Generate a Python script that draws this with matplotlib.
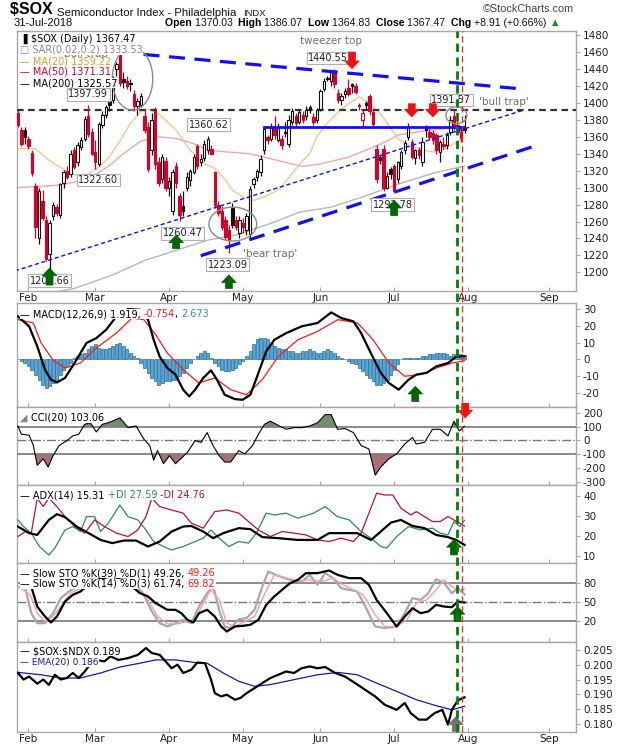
import numpy as np
import pandas as pd
import matplotlib
matplotlib.use('Agg')
import matplotlib.pyplot as plt
import matplotlib.transforms as mtrans
from matplotlib.patches import Ellipse
from matplotlib.lines import Line2D

plt.rcParams['font.family'] = ['DejaVu Sans']

# --- daily candles, 29-Jan-2018 .. 31-Jul-2018 ---
opens = [1388, 1368, 1368, 1357, 1341, 1302, 1240, 1284, 1262, 1222,
         1266, 1277, 1268, 1306, 1320, 1316, 1344, 1330, 1348, 1358,
         1384, 1366, 1342, 1328, 1374, 1386, 1402, 1404, 1440, 1458,
         1428, 1426, 1424, 1410, 1396, 1398, 1385, 1372, 1344, 1390,
         1330, 1310, 1332, 1300, 1272, 1325, 1290, 1278, 1300, 1309,
         1318, 1349, 1330, 1335, 1345, 1346, 1318, 1279, 1272, 1262,
         1250, 1276, 1262, 1246, 1258, 1250, 1245, 1304, 1312, 1318,
         1344, 1360, 1358, 1371, 1356, 1358, 1366, 1352, 1378, 1384,
         1378, 1386, 1385, 1395, 1383, 1380, 1393, 1416, 1430, 1426,
         1438, 1412, 1404, 1410, 1418, 1422, 1420, 1398, 1380, 1400,
         1408, 1389, 1346, 1336, 1346, 1300, 1322, 1326, 1310, 1326,
         1345, 1360, 1354, 1335, 1344, 1330, 1370, 1366, 1364, 1362,
         1342, 1352, 1350, 1366, 1384, 1374, 1366, 1370.03]
highs = [1392, 1371, 1372, 1361, 1344, 1306, 1299, 1297, 1266, 1262,
         1283, 1281, 1306, 1321, 1325, 1344, 1348, 1354, 1360, 1384,
         1397.99, 1370, 1356, 1378, 1390, 1398, 1405, 1432, 1448, 1462,
         1436, 1432, 1428, 1415, 1406, 1412, 1392, 1378, 1388, 1395,
         1336, 1340, 1336, 1312, 1322, 1330, 1294, 1296, 1318, 1322,
         1340, 1352, 1340, 1356, 1360.62, 1350, 1320, 1284, 1278, 1266,
         1256, 1282, 1266, 1266, 1264, 1270, 1302, 1312, 1322, 1338,
         1372, 1362, 1376, 1384, 1376, 1362, 1378, 1386, 1394, 1388,
         1392, 1390, 1396, 1398, 1388, 1394, 1416, 1430, 1432, 1438,
         1440.55, 1416, 1412, 1418, 1428, 1424, 1424, 1400, 1392, 1402,
         1410, 1392, 1350, 1338, 1350, 1318, 1324, 1328, 1332, 1344,
         1356, 1376, 1358, 1346, 1348, 1360, 1374, 1370, 1368, 1364,
         1356, 1360, 1366, 1384, 1391.57, 1380, 1370, 1386.07]
lows = [1371, 1349, 1352, 1346, 1314, 1240, 1234, 1262, 1214, 1200.66,
        1262, 1266, 1264, 1300, 1310, 1312, 1322, 1326, 1344, 1355,
        1360, 1338, 1322.6, 1325, 1370, 1382, 1390, 1400, 1432, 1420,
        1418, 1416, 1414, 1390, 1386, 1395, 1364, 1318, 1338, 1322,
        1302, 1306, 1296, 1290, 1268, 1300, 1260.47, 1266, 1296, 1302,
        1316, 1322, 1326, 1332, 1340, 1338, 1276, 1266, 1250, 1238,
        1223.09, 1252, 1250, 1240, 1246, 1244, 1240, 1300, 1308, 1314,
        1340, 1352, 1355, 1358, 1354, 1346, 1360, 1348, 1374, 1372,
        1375, 1376, 1380, 1388, 1374, 1376, 1390, 1414, 1426, 1420,
        1418, 1400, 1398, 1406, 1408, 1412, 1410, 1392, 1372, 1392,
        1386, 1370, 1305, 1328, 1296, 1298, 1310, 1293.78, 1306, 1322,
        1340, 1356, 1334, 1328, 1334, 1326, 1360, 1356, 1352, 1340,
        1330, 1346, 1346, 1362, 1368, 1362, 1354, 1364.83]
closes = [1374, 1352, 1360, 1349, 1317, 1254, 1296, 1264, 1216, 1258,
          1279, 1270, 1304, 1318, 1313, 1340, 1324, 1350, 1356, 1381,
          1363, 1340, 1330, 1375, 1386, 1395, 1398, 1429, 1446, 1424,
          1425, 1420, 1422, 1396, 1402, 1408, 1368, 1322, 1380, 1328,
          1306, 1336, 1300, 1308, 1318, 1305, 1268, 1272, 1313, 1320,
          1336, 1326, 1334, 1352, 1358, 1340, 1279, 1270, 1254, 1242,
          1238, 1256, 1253, 1262, 1254, 1266, 1298, 1310, 1320, 1334,
          1369, 1356, 1372, 1362, 1370, 1350, 1364, 1380, 1391, 1376,
          1389, 1380, 1392, 1393, 1378, 1392, 1414, 1426, 1428, 1436,
          1422, 1404, 1408, 1414, 1411, 1420, 1413, 1396, 1388, 1398,
          1390, 1375, 1310, 1333, 1299, 1314, 1316, 1296, 1330, 1342,
          1353, 1372, 1336, 1344, 1338, 1354, 1368, 1360, 1356, 1344,
          1354, 1349, 1362, 1380, 1372, 1366, 1358.56, 1367.47]

# moving averages (trading-day index, value)
ma20_x = [0, 5, 9, 14, 17, 20, 23, 26, 29, 32, 35, 37, 40, 45, 49, 53, 56, 59, 61,
          64, 67, 70, 73, 75, 78, 81, 83, 85, 88, 91, 94, 97, 100, 103, 106, 108,
          111, 114, 118, 121, 124, 127]
ma20_y = [1346, 1346, 1332, 1319, 1314, 1316, 1324, 1336, 1355, 1376, 1390, 1393,
          1387, 1368, 1344, 1328, 1323, 1309, 1297, 1289, 1285, 1289, 1295, 1301,
          1317, 1332, 1340, 1360, 1376, 1389, 1399, 1407, 1399, 1388, 1370, 1358,
          1350, 1346, 1342, 1345, 1352, 1359.22]
ma50_x = [0, 12, 20, 26, 30, 35, 40, 45, 50, 54, 60, 66, 72, 78, 81, 86, 94, 100,
          105, 108, 114, 120, 127]
ma50_y = [1300, 1303, 1310, 1326, 1340, 1355, 1360, 1358, 1352, 1344, 1342, 1340,
          1334, 1328, 1325, 1328, 1336, 1346, 1355, 1362, 1366, 1369, 1371.31]
ma200_x = [0, 10, 16, 27, 36, 45, 54, 62, 72, 80, 89, 98, 108, 118, 127]
ma200_y = [1168, 1176, 1181, 1197, 1214, 1226, 1238, 1244, 1258, 1271, 1277, 1289,
           1304, 1317, 1325.57]

# MACD(12,26,9)
macd_x = [0, 3.2, 5.5, 7.7, 9.4, 11.1, 13.4, 16.1, 19.5, 22.3, 25.1, 28, 31.3, 34.7,
          37, 38.6, 40.3, 42.5, 44.8, 47, 48.7, 50.4, 52.7, 54.9, 56.6, 58.8, 61.7,
          63.9, 66.1, 68.4, 70.6, 72.9, 76.3, 80.7, 85.2, 89.1, 92, 95.4, 97.6, 100.4,
          103.2, 105.5, 108.3, 111.1, 113.3, 116.2, 119, 122.3, 124.6, 127]
macd_y = [25.6, 19.7, 7.8, -6.1, -12, -13.7, -11, -2.1, 9.8, 12.7, 17.7, 25.6, 30,
          29.6, 23.7, 11.7, 1.8, -5.1, -9, -18, -22, -18, -11, -6.5, -12, -21, -23.6,
          -24, -21, -8, 4.8, 11.7, 15.7, 19.7, 21.7, 28, 24.6, 22.7, 15.7, 3.6, -8,
          -14, -18, -12, -9, -8, -4.1, -2.1, 1.6, 1.919]
signal_x = [0, 4.4, 6.6, 10, 13.4, 17.8, 22.3, 28, 32.4, 35.8, 39.2, 42.5, 47, 51.5,
            56, 60.5, 65, 69.5, 74, 79.6, 85.2, 91, 96.6, 101, 105.5, 110, 114.5, 119,
            123.4, 127]
signal_y = [23.7, 21.7, 9.8, -0.4, -5.1, -2.1, 6.8, 15.7, 24.6, 23.7, 14.7, 3.8, -6.1,
            -14, -11, -18, -21, -12, 1.6, 11.7, 16.7, 23.7, 21.7, 11.7, -2.1, -10, -9,
            -5.1, -2.1, -0.754]
macd_hist = [0.5, -1, -2, -4, -6, -9, -12, -15, -17, -16, -14, -12, -9, -6, -4, -2,
             1, 2, 3, 4, 6, 8, 9, 7, 6, 6, 7, 8, 9, 10, 8, 6, 4, 2, 1, -2, -5, -8,
             -11, -13, -15, -14, -13, -13, -12, -12, -10, -8, -5, -2, 0, 2, 4, 5, 4,
             1, -2, -4, -6, -7, -7, -6, -5, -3, -1, 2, 5, 9, 12, 13, 13, 12, 10, 8,
             7, 6, 6, 5, 5, 4, 4, 5, 5, 6, 5, 4, 4, 5, 6, 5, 4, 2, 1, 0, -1, -2, -3,
             -5, -7, -9, -11, -13, -15, -15, -14, -12, -9, -6, -3, 0, 1, 1, 1, 1, 1,
             2, 2, 3, 3, 4, 4, 4, 3, 2, 3, 3, 3, 2.673]

# CCI(20)
cci_x = [0, 1, 3.2, 4.4, 5.5, 7.2, 8.6, 10, 11.7, 13.9, 15.6, 17.3, 19, 20.6, 22.3,
         24, 25.7, 28, 29, 31.3, 33.6, 35.8, 37.5, 38.6, 39.7, 41.4, 43.1, 44.8,
         46.5, 48.2, 50.4, 52.1, 53.8, 55.5, 57.2, 58.8, 60.5, 62.8, 64.5, 66.7,
         68.4, 70.1, 71.8, 74, 76.3, 78.5, 80.7, 83, 85.2, 87.4, 89.1, 90.9, 93.1,
         95.4, 97.6, 99.8, 101.6, 103.2, 105.5, 107.7, 110, 112.2, 113.3, 115.6,
         117.9, 120.1, 122.3, 124, 125.5, 127]
cci_y = [105, 45, 38, -38, -181, -133, -193, -110, -38, -2, 33, 45, 117, 129, 62,
         117, 129, 152, 164, 93, 105, 10, -38, -145, -74, -169, -110, -169, -129,
         -86, -2, -14, 57, -38, -110, -157, -157, -74, -98, -38, 45, 117, 140, 110,
         81, 93, 93, 105, 129, 188, 188, 81, 86, 57, -38, -62, -252, -193, -133,
         -98, -26, 21, -26, -14, 81, 81, 33, 140, 69, 103.06]

# ADX(14), +DI, -DI
adx_x = [0, 3.2, 5.5, 8.8, 11.1, 13.4, 16.7, 20.1, 23.5, 26.8, 30.2, 33.6, 37, 40.3,
         43.7, 47, 49.3, 52.7, 55.5, 58.4, 62.8, 66.1, 69.5, 74, 79.6, 85.2, 88.5,
         93, 96.5, 100.4, 103.2, 106.1, 108.9, 112.2, 115.6, 118.9, 122.3, 124.6, 127]
adx_y = [24.5, 21.2, 20.3, 27.8, 30.7, 29.2, 24.5, 21.2, 17.8, 16.2, 17.5, 17.5,
         14.5, 17, 22, 24.5, 24.8, 22, 18.7, 21.2, 23.7, 23.2, 19.2, 18.7, 17.8,
         17.8, 21.2, 21.2, 21.2, 17.8, 22, 26.5, 27.8, 24.8, 23.7, 20.3, 19.2, 17.8,
         15.31]
pdi_x = [0, 1.6, 3.8, 6.1, 8.8, 10.5, 13.4, 15.6, 17.8, 19.5, 21.8, 23.5, 25.7, 29,
         31.3, 34.1, 36.4, 38.6, 41.4, 43.7, 47, 50.4, 52.7, 54.9, 57.2, 60, 62.8,
         65.6, 67.8, 70.6, 72.9, 76.3, 79.6, 84.1, 87.4, 90.8, 94.2, 97.6, 100.4,
         103.2, 104.9, 107.7, 111.1, 114.5, 117.9, 120.1, 122.3, 124, 125.7, 127]
pdi_y = [27.8, 24.5, 21.2, 14.5, 10.3, 13.7, 22.8, 24.5, 22, 29.5, 29.5, 22, 26.2,
         35.3, 29.5, 27.8, 22.8, 17, 14.5, 12.8, 14.5, 17, 18.7, 22.8, 18.7, 14.5,
         17, 16.2, 21.2, 31.2, 30.3, 31.2, 28.7, 31.2, 34.5, 29.5, 27.8, 22, 18.7,
         14.5, 13.7, 19.5, 24.5, 22.8, 23.7, 21.2, 20.3, 27, 24.5, 27.59]
mdi_x = [0, 2.1, 3.8, 5.5, 7.2, 8.8, 11.1, 13.4, 16.2, 19, 21.8, 24.6, 28, 31.3,
         34.1, 36.4, 38.1, 40.3, 43.7, 47, 49.3, 52.7, 56, 59.4, 62.8, 65.6, 68.4,
         71.8, 75.1, 78.5, 81.9, 85.2, 88.5, 91.9, 95.4, 97.6, 99.8, 102, 104.3,
         106.6, 108.9, 111.7, 113.3, 115.6, 117.9, 120.1, 122.3, 124, 127]
mdi_y = [19.5, 22, 21.2, 38.7, 34.5, 38.7, 34.5, 29.5, 24.5, 21.2, 27.8, 24.5, 21.2,
         19.5, 22.8, 29.5, 38.7, 34.5, 32.8, 31.2, 26.2, 23.7, 32, 32.8, 31.2, 27,
         22.8, 19.5, 22, 21.2, 20.3, 17.8, 17, 18.7, 17, 21.2, 31.2, 41.2, 40.3,
         40.3, 33.7, 30.3, 32, 29.5, 27, 27, 29.5, 27.8, 24.76]

# Slow stochastics
sto39_x = [3.8, 5.5, 7.7, 9.4, 11.1, 13.4, 15.6, 17.8, 19.5, 23, 27, 31, 34.7, 37,
           39.2, 42.5, 44.8, 46.5, 48.2, 49.9, 51.5, 53.8, 56, 57.8, 59.4, 61.7,
           63.9, 66.1, 68.4, 70.6, 72.9, 75.1, 77.4, 79.6, 81.9, 85.2, 88.5, 90.9,
           94.2, 97.6, 99.8, 102, 104.9, 107.7, 110, 112.2, 114.5, 116.7, 118.9,
           121.2, 123.4, 125.1, 127]
sto39_y = [73.8, 43, 27.7, 18.5, 27.7, 50.8, 61, 66.2, 73.8, 85, 90, 80, 63.6, 58.5,
           48.2, 38, 38, 32.8, 22.6, 18.5, 32.8, 38, 27.7, 12.3, 4.6, 12.3, 13.3,
           14.9, 22.6, 45.6, 58.5, 68.7, 79, 84.1, 94.4, 94.4, 98.5, 91.8, 86.7,
           86.7, 76.4, 53.3, 32.8, 12.3, 27.7, 40.5, 32.8, 35.4, 45.6, 43, 42,
           50.8, 49.26]
sto14k_x = [0, 2.1, 3.8, 5.5, 7.7, 10, 12.2, 14.5, 16.7, 22, 26, 30, 33.6, 35.8,
            38.1, 40.3, 42.5, 44.8, 47, 49.3, 51.5, 53.8, 55.5, 57.2, 58.8, 60.5,
            62.8, 65, 67.3, 69.5, 71.2, 74, 77.4, 80.7, 83, 85.2, 87.4, 89.6, 91.9,
            94.2, 96.5, 98.8, 101.6, 104.3, 107.7, 110, 112.2, 114.5, 116.7, 118.9,
            121.2, 123.4, 125.1, 127]
sto14k_y = [73.8, 71.3, 32.8, 17.4, 17.4, 32.8, 55.9, 66.2, 72.8, 90, 95, 88, 73.8,
            61, 35.4, 17.4, 12.3, 17.4, 22.6, 17.4, 43, 63.6, 74.9, 38, 12.3, 9.7,
            23.6, 25.1, 38, 73.8, 96.9, 90.3, 84.1, 81.5, 91.8, 76.4, 94.4, 86.7,
            71.3, 68.7, 66.2, 43, 12.3, 9.7, 12.3, 32.8, 55.9, 53.3, 63.6, 85.1, 79,
            63.6, 71.3, 61.74]
sto14d_x = [0, 3.5, 5.5, 7.7, 10, 12.2, 15, 17.8, 22, 26, 30, 34.7, 37, 39.7, 42.5,
            45.4, 48.2, 50.4, 52.7, 54.9, 57.2, 59.4, 61.7, 64.5, 67.3, 69.8, 72.9,
            76.3, 79.6, 83, 86.3, 89.6, 92.5, 95.4, 98.2, 101.6, 104.3, 107.7, 110.6,
            113.3, 116.2, 118.9, 121.2, 123.4, 125.1, 127]
sto14d_y = [73.8, 61, 32.8, 20, 27.7, 43, 63.6, 71.3, 88, 92, 86, 71.3, 53.3, 27.7,
            16.4, 16.4, 20, 22.6, 48.2, 68.7, 53.3, 17.4, 12.3, 20, 27.7, 58.5, 91.8,
            86.7, 82.6, 84.1, 81.5, 86.7, 76.4, 68.7, 61, 30.3, 12.3, 12.3, 22.6,
            48.2, 53.3, 68.7, 84.1, 73.8, 68.7, 69.82]

# $SOX:$NDX ratio and its EMA(20)
ratio_x = [0, 1.6, 3.2, 5.5, 7.2, 8.8, 10.5, 12.2, 13.9, 15.6, 17.3, 19, 20.1, 22.3,
           24.6, 26.3, 28.6, 31.3, 34.1, 36.4, 38.1, 40.3, 42, 43.7, 45.4, 47, 49.3,
           51, 53.2, 54.9, 56, 57.8, 59.4, 61.7, 63.3, 65, 67.3, 69.5, 71.8, 74,
           76.3, 78.5, 80.7, 83, 85.2, 87.4, 90.2, 93, 95.9, 98.8, 101.6, 104.3,
           107.7, 110, 111.7, 114, 116.2, 118.5, 120.7, 122.3, 123.4, 125.1, 127]
ratio_y = [0.1972, 0.1950, 0.1960, 0.1936, 0.1950, 0.1932, 0.1966, 0.1950, 0.1955,
           0.1972, 0.1955, 0.1977, 0.1994, 0.2016, 0.2011, 0.2028, 0.2016, 0.2022,
           0.2033, 0.2056, 0.2039, 0.2033, 0.2011, 0.1988, 0.2000, 0.1972, 0.1983,
           0.2007, 0.2005, 0.1950, 0.1904, 0.1893, 0.1899, 0.1882, 0.1888, 0.1904,
           0.1921, 0.1938, 0.1955, 0.1966, 0.1977, 0.1972, 0.1988, 0.1994, 0.1988,
           0.1992, 0.1972, 0.1960, 0.1938, 0.1915, 0.1893, 0.1865, 0.1848, 0.1871,
           0.1837, 0.1815, 0.1815, 0.1837, 0.1848, 0.1798, 0.1848, 0.1880, 0.189]
ema_x = [0, 6.6, 12.2, 17.8, 23.5, 29, 34.7, 39.2, 44.8, 50.4, 53.8, 58.4, 62.8,
         67.3, 71.8, 76.3, 80.7, 85.2, 90.9, 96.5, 102, 107.7, 113.3, 118.9, 123.4,
         127]
ema_y = [0.1974, 0.1966, 0.1955, 0.1955, 0.1972, 0.1992, 0.2005, 0.2016, 0.2016,
         0.2007, 0.2005, 0.1972, 0.1944, 0.1927, 0.1933, 0.1944, 0.1955, 0.1966,
         0.1974, 0.1966, 0.1938, 0.1910, 0.1882, 0.1862, 0.1848, 0.186]

# annotations on the price panel
price_tags = [(20, 1410, '1397.99'), (22.8, 1309, '1322.60'), (54.3, 1374, '1360.62'),
              (46.8, 1246, '1260.47'), (59.7, 1209, '1223.09'), (9, 1190, '1200.66'),
              (106.6, 1280, '1293.78'), (88.3, 1453, '1440.55'), (123.2, 1403.5, '1391.57')]
up_arrows = [(9, 1185, 1205), (45, 1228, 1244), (60, 1181, 1197), (107, 1267, 1285)]
down_arrows = [(95, 1460, 1440.5), (112, 1399, 1383.5), (118, 1399, 1383.5)]

# --- layout ---
W, H = 620, 750
fig = plt.figure(figsize=(W / 100, H / 100), dpi=100)
LEFT, RIGHT = 16.5, 576


def rect(top, bot):
    return [LEFT / W, 1 - bot / H, (RIGHT - LEFT) / W, (bot - top) / H]


ax_p = fig.add_axes(rect(30.5, 291))
ax_m = fig.add_axes(rect(303, 407))
ax_c = fig.add_axes(rect(407, 485))
ax_a = fig.add_axes(rect(485, 562.5))
ax_s = fig.add_axes(rect(562.5, 641.5))
ax_r = fig.add_axes(rect(641.5, 731.5))

holidays = pd.to_datetime(['2018-02-19', '2018-03-30', '2018-05-28', '2018-07-04', '2018-09-03'])
days = pd.bdate_range('2018-01-29', '2018-09-28')
days = days[~days.isin(holidays)]
month_pos, month_lab = [], []
for k in range(1, len(days)):
    if days[k].month != days[k - 1].month:
        month_pos.append(k)
        month_lab.append(days[k].strftime('%b'))

edge = '#a8a8a8'
txt = '#222222'


def style(ax, ylim, yticks, ylabels, xlabels=False):
    ax.set_xlim(-0.4, 158.7)
    ax.set_ylim(*ylim)
    ax.yaxis.tick_right()
    ax.set_yticks(yticks)
    ax.set_yticklabels(ylabels)
    ax.set_xticks(month_pos)
    ax.set_xticklabels(month_lab if xlabels else [])
    ax.tick_params(axis='y', length=3, pad=2, labelsize=7.5, colors=edge, labelcolor=txt)
    ax.tick_params(axis='x', length=3, pad=1.5, labelsize=7.5, colors=edge, labelcolor=txt,
                   direction='in')
    for s in ax.spines.values():
        s.set_color(edge)
        s.set_linewidth(1)


# --- price panel ---
x = np.arange(len(closes))
o, h, l, c = map(np.asarray, (opens, highs, lows, closes))
prev = np.r_[o[0], c[:-1]]
red, blk = '#d6002a', '#111111'
col = np.where(c < prev, red, blk)
face = np.where(c > o, 'white', col)
ax_p.vlines(x, l, h, colors=col, lw=0.9, zorder=4)
ax_p.bar(x, np.maximum(np.abs(c - o), 0.8), bottom=np.minimum(o, c), width=0.68,
         color=face, edgecolor=col, linewidth=0.8, zorder=5)

ax_p.plot(ma20_x, ma20_y, color='#f0c890', lw=1.0, zorder=2)
ax_p.plot(ma50_x, ma50_y, color='#f2a8a8', lw=1.0, zorder=2)
ax_p.plot(ma200_x, ma200_y, color='#b8b8b8', lw=1.0, zorder=2)

blue = '#1010f0'
ax_p.plot([28.5, 142], [1460, 1417], color=blue, lw=2.3, dashes=(5, 3), zorder=6)
ax_p.plot([52, 147.6], [1219.6, 1350], color=blue, lw=2.3, dashes=(5, 3), zorder=6)
ax_p.plot([-4.6, 143.7], [1196.8, 1391.4], color=blue, lw=1.0, dashes=(3, 2), zorder=6)
ax_p.plot([70, 126.8], [1372, 1372], color=blue, lw=2.0, zorder=6)
ax_p.axhline(1391.57, color='#333333', lw=1.6, dashes=(3, 2), zorder=3)

for cx, cy, w, hh in [(32.6, 1428.5, 11.5, 74), (61.1, 1257, 13.6, 40), (124.7, 1385.5, 6, 20)]:
    ax_p.add_patch(Ellipse((cx, cy), w, hh, fill=False, ec='#8a8a8a', lw=1.0, zorder=7))

for px, py, s in price_tags:
    ax_p.text(px, py, s, ha='center', va='center', fontsize=7, color=txt, zorder=8,
              bbox=dict(boxstyle='square,pad=0.15', fc='white', ec='#b0b0b0', lw=0.8))


def block_arrow(ax, xi, tail, tip, color):
    ax.annotate('', xy=(xi, tip), xytext=(xi, tail), annotation_clip=False, zorder=9,
                arrowprops=dict(arrowstyle='simple,head_length=0.55,head_width=1.05,tail_width=0.5',
                                fc=color, ec=color, lw=0.5, shrinkA=0, shrinkB=0,
                                mutation_scale=10, clip_on=False))


for xi, t0, t1 in up_arrows:
    block_arrow(ax_p, xi, t0, t1, '#006400')
for xi, t0, t1 in down_arrows:
    block_arrow(ax_p, xi, t0, t1, '#ee1111')

gray_txt = '#707070'
ax_p.text(89, 1473, 'tweezer top', ha='center', va='center', fontsize=7.5, color=gray_txt)
ax_p.text(131, 1401, "'bull trap'", ha='left', va='center', fontsize=7.5, color=gray_txt)
ax_p.text(64, 1221.6, "'bear trap'", ha='left', va='center', fontsize=7.5, color=gray_txt)
ax_p.text(12.2, 1457.4, "'bull trap'", ha='left', va='center', fontsize=7.5, color=gray_txt)

style(ax_p, (1178, 1485.5), range(1200, 1481, 20), [str(v) for v in range(1200, 1481, 20)], True)

# --- MACD ---
hc = np.asarray(macd_hist)
ax_m.bar(np.arange(len(hc)), hc, width=0.85, color='#55a5d5', edgecolor='#2f6f99', lw=0.5, zorder=2)
ax_m.plot(macd_x, macd_y, color='black', lw=1.6, zorder=4)
ax_m.plot(signal_x, signal_y, color='#ff1a1a', lw=0.9, zorder=3)
style(ax_m, (-28.3, 33.6), range(-20, 31, 10), [str(v) for v in range(-20, 31, 10)])
block_arrow(ax_m, 113, -25, -16, '#006400')

# --- CCI ---
cx_, cy_ = np.asarray(cci_x), np.asarray(cci_y)
ax_c.fill_between(cx_, cy_, 100, where=cy_ > 100, interpolate=True, color='#6f8f6f', lw=0, zorder=2)
ax_c.fill_between(cx_, cy_, -100, where=cy_ < -100, interpolate=True, color='#a87272', lw=0, zorder=2)
ax_c.plot(cx_, cy_, color='black', lw=0.8, zorder=4)
ax_c.axhline(100, color='#777777', lw=1.2, zorder=3)
ax_c.axhline(-100, color='#777777', lw=1.2, zorder=3)
ax_c.axhline(0, color='#777777', lw=1.0, ls='-.', zorder=3)
style(ax_c, (-324, 243), range(-300, 201, 100), [str(v) for v in range(-300, 201, 100)])
block_arrow(ax_c, 127.2, 270, 164, '#ee1111')

# --- ADX ---
ax_a.plot(pdi_x, pdi_y, color='#2e8b57', lw=0.9, zorder=3)
ax_a.plot(mdi_x, mdi_y, color='#b5123e', lw=0.9, zorder=3)
ax_a.plot(adx_x, adx_y, color='black', lw=1.6, zorder=4)
style(ax_a, (6.5, 45.3), [10, 20, 30, 40], ['10', '20', '30', '40'])
block_arrow(ax_a, 124, 10.3, 18, '#006400')

# --- Slow stochastics ---
ax_s.axhline(80, color='#777777', lw=1.2, zorder=1)
ax_s.axhline(20, color='#777777', lw=1.2, zorder=1)
ax_s.axhline(50, color='#777777', lw=1.0, ls='-.', zorder=1)
ax_s.plot(sto14k_x, sto14k_y, color='#a8a8a8', lw=1.6, zorder=2)
ax_s.plot(sto14d_x, sto14d_y, color='#f4a0a0', lw=1.0, zorder=3)
ax_s.plot(sto39_x, sto39_y, color='black', lw=1.6, zorder=4)
style(ax_s, (-10.8, 110.8), [20, 50, 80], ['20', '50', '80'])
block_arrow(ax_s, 125, 20, 43, '#006400')

# --- ratio ---
ax_r.plot(ema_x, ema_y, color='#1a1aa0', lw=0.9, zorder=3)
ax_r.plot(ratio_x, ratio_y, color='black', lw=1.6, zorder=4)
rt = [0.180, 0.185, 0.190, 0.195, 0.200, 0.205]
style(ax_r, (0.1775, 0.2078), rt, ['%.3f' % v for v in rt], True)
block_arrow(ax_r, 124.5, 0.1775, 0.1824, '#707070')

# vertical event lines through every panel
blend = mtrans.blended_transform_factory(ax_p.transData, fig.transFigure)
fig.add_artist(Line2D([125, 125], [1 - 731.5 / H, 1 - 30.5 / H], transform=blend,
                      color='#008000', lw=2.0, dashes=(3, 2), zorder=10))
fig.add_artist(Line2D([126.3, 126.3], [1 - 731.5 / H, 1 - 30.5 / H], transform=blend,
                      color='#ff2020', lw=0.9, dashes=(5, 3), zorder=10))


# --- legend / header texts ---
def chain(ax, xp, yp, parts, size, family=None, bg=True):
    fam = family or ['DejaVu Sans']
    bb = dict(boxstyle='square,pad=0.05', fc='white', ec='none') if bg else None
    first = parts[0]
    t = ax.text(xp / W, 1 - yp / H, first[0], transform=fig.transFigure, color=first[1],
                fontsize=first[3] if len(first) > 3 else size, fontweight=first[2],
                family=fam, ha='left', va='baseline', zorder=20, bbox=bb)
    for part in parts[1:]:
        s, cl, wt = part[:3]
        t = ax.annotate(s, xy=(1, 0), xycoords=t, ha='left', va='bottom', color=cl,
                        fontsize=part[3] if len(part) > 3 else size, fontweight=wt,
                        family=fam, zorder=20, annotation_clip=False, bbox=bb)
    return t


hdr = ['Liberation Sans', 'DejaVu Sans']
chain(ax_p, 10, 14.5, [(r'\$SOX ', 'black', 'bold', 11.5),
                       ('Semiconductor Index - Philadelphia  ', '#111111', 'normal', 8.2),
                       ('INDX', '#111111', 'normal', 6.8)], 8, hdr, False)
fig.text(574 / W, 1 - 12.5 / H, '\u00a9StockCharts.com', ha='right', va='baseline',
         fontsize=7.8, color='#444444', family=hdr)
chain(ax_p, 14, 25.5, [('31-Jul-2018', '#111111', 'normal')], 8, hdr, False)
chain(ax_p, 165, 25.5, [('Open ', 'black', 'bold'), ('1370.03  ', '#111111', 'normal'),
                        ('High ', 'black', 'bold'), ('1386.07  ', '#111111', 'normal'),
                        ('Low ', 'black', 'bold'), ('1364.83  ', '#111111', 'normal'),
                        ('Close ', 'black', 'bold'), ('1367.47  ', '#111111', 'normal'),
                        ('Chg ', 'black', 'bold'), ('+8.91 (+0.66%) ', '#111111', 'normal'),
                        ('\u25b2', '#1a8a1a', 'normal')], 7.6, hdr, False)

lg = 7
chain(ax_p, 20, 42, [('\u2590 ', 'black', 'normal'), (r'\$SOX (Daily) 1367.47', 'black', 'normal')], lg)
chain(ax_p, 20, 53, [('\u25a1 SAR(0.02,0.2) 1333.53', '#8a8a8a', 'normal')], lg)
chain(ax_p, 20, 64, [('\u2014 MA(20) 1359.22', '#d4a22a', 'normal')], lg, bg=False)
chain(ax_p, 20, 75, [('\u2014 MA(50) 1371.31', '#cc0033', 'normal')], lg)
chain(ax_p, 20, 86, [('\u2014 MA(200) 1325.57', 'black', 'normal')], lg)

chain(ax_m, 20, 317, [('\u2014 MACD(12,26,9) 1.919, ', 'black', 'normal'), ('-0.754', '#ff1a1a', 'normal'),
                      (', ', 'black', 'normal'), ('2.673', '#3a8fc8', 'normal')], lg)
chain(ax_c, 20, 421, [('\u25e2 ', '#6f8f6f', 'normal'), ('CCI(20) 103.06', 'black', 'normal')], lg)
chain(ax_a, 20, 498, [('\u2014 ADX(14) 15.31 ', 'black', 'normal'), ('+DI 27.59 ', '#2e8b57', 'normal'),
                      ('-DI 24.76', '#b5123e', 'normal')], lg)
chain(ax_s, 20, 576, [('\u2014 Slow STO %K(39) %D(1) 49.26, ', 'black', 'normal'),
                      ('49.26', '#ff1a1a', 'normal')], lg)
chain(ax_s, 20, 587, [('\u2014 Slow STO %K(14) %D(3) 61.74, ', 'black', 'normal'),
                      ('69.82', '#ff1a1a', 'normal')], lg)
chain(ax_r, 20, 654, [('\u2014 ', 'black', 'normal'), (r'\$SOX:\$NDX 0.189', 'black', 'normal')], lg)
chain(ax_r, 20, 665, [('\u2014 EMA(20) 0.186', '#1a1aa0', 'normal')], 6.5)

fig.savefig('out.png', dpi=100, facecolor='white')
